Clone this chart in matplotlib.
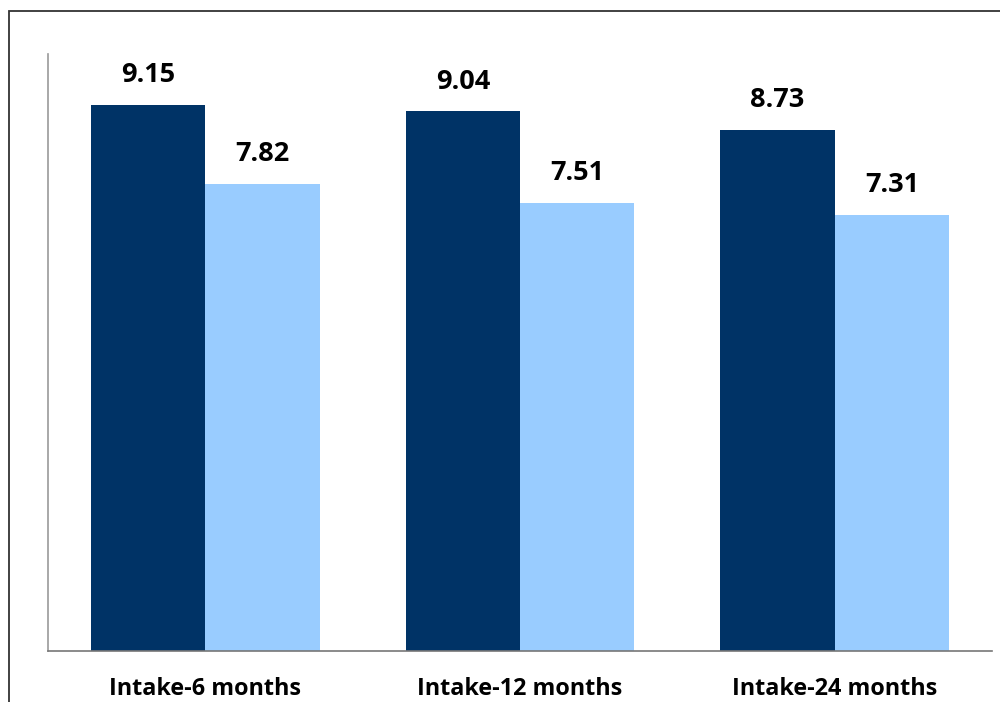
import matplotlib
matplotlib.use("Agg")
import matplotlib.pyplot as plt
from matplotlib.patches import Rectangle
import numpy as np

categories = ["Intake-6 months", "Intake-12 months", "Intake-24 months"]
series_a = [9.15, 9.04, 8.73]
series_b = [7.82, 7.51, 7.31]

W, H = 1000, 702
fig = plt.figure(figsize=(W / 100, H / 100), dpi=100)
ax = fig.add_axes([48 / W, 1 - 651 / H, (992 - 48) / W, (651 - 54) / H])

x = np.arange(len(categories))
bw = 0.363
ba = ax.bar(x - bw / 2, series_a, bw, color="#003366")
bb = ax.bar(x + bw / 2, series_b, bw, color="#99CCFF")

font = "Open Sans"
for bars, vals in ((ba, series_a), (bb, series_b)):
    for r, v in zip(bars, vals):
        ax.text(r.get_x() + r.get_width() / 2, v + 0.28, f"{v:.2f}",
                ha="center", va="bottom", fontsize=19.5, fontweight="bold",
                family=font, color="black")

ax.set_xlim(-0.5, 2.5)
ax.set_ylim(0, 10)
ax.set_yticks([])
ax.set_xticks(x)
ax.set_xticklabels(categories, fontsize=16.8, fontweight="bold", family=font)
ax.tick_params(axis="x", length=0, pad=18.5)
for s in ("top", "right"):
    ax.spines[s].set_visible(False)
ax.spines["left"].set_color("#999999")
ax.spines["bottom"].set_color("#777777")
ax.spines["left"].set_linewidth(1.2)
ax.spines["bottom"].set_linewidth(1.2)

fig.patches.append(Rectangle((8.5 / W, -0.05), 1.1, 1 - 11 / H + 0.05,
                             transform=fig.transFigure, fill=False,
                             edgecolor="#333333", linewidth=1.3))

fig.savefig("out.png", dpi=100)
